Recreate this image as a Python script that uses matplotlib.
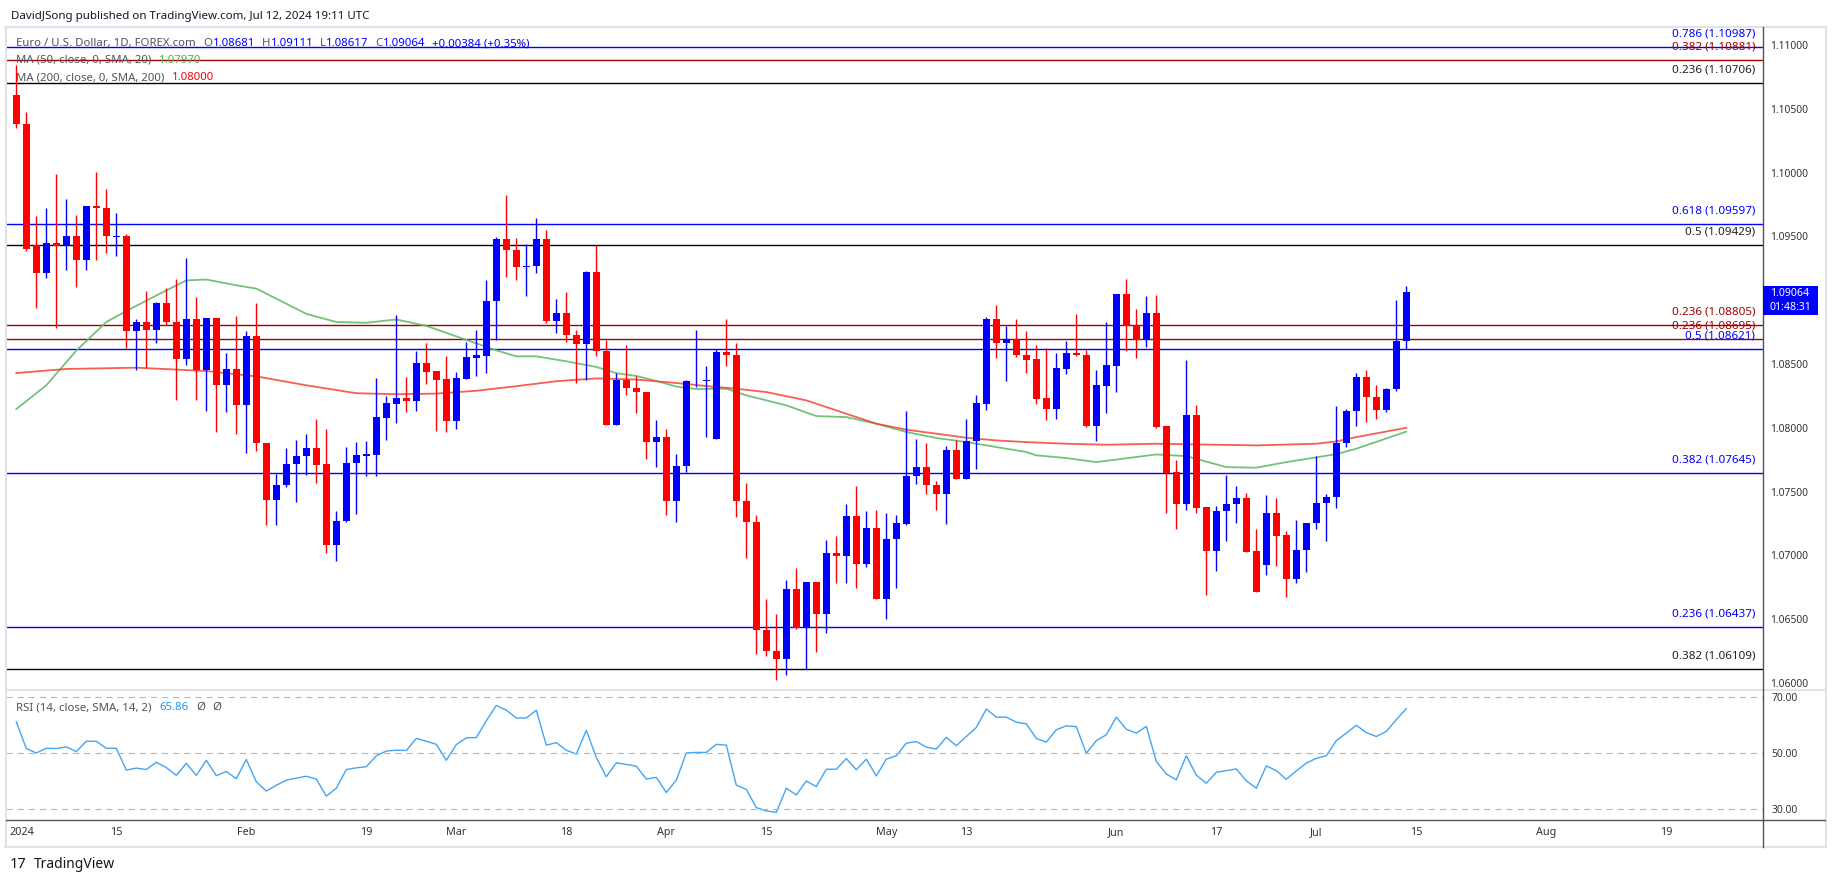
import matplotlib
matplotlib.use('Agg')
import matplotlib.pyplot as plt
import numpy as np
from matplotlib.patches import Rectangle
from matplotlib.lines import Line2D
from matplotlib.transforms import offset_copy

plt.rcParams['font.family'] = ['Noto Sans', 'DejaVu Sans']

# EUR/USD daily candles, 1 Jan .. 12 Jul 2024
opens = [1.10611, 1.10381, 1.09431, 1.09213, 1.09447, 1.09421, 1.09501, 1.09312, 1.09735, 1.09725,
         1.09495, 1.09501, 1.08755, 1.08829, 1.08765, 1.08979, 1.08829, 1.08541, 1.08855, 1.08455,
         1.08861, 1.08339, 1.08461, 1.08179, 1.08717, 1.07879, 1.07431, 1.07549, 1.07719, 1.07779,
         1.07843, 1.07719, 1.07085, 1.07271, 1.07725, 1.07781, 1.07790, 1.08079, 1.08189, 1.08233,
         1.08213, 1.08510, 1.08447, 1.08384, 1.08051, 1.08384, 1.08549, 1.08565, 1.08992, 1.09481,
         1.09396, 1.09264, 1.09267, 1.09481, 1.08835, 1.08896, 1.08730, 1.08653, 1.09223, 1.08604,
         1.08018, 1.08378, 1.08315, 1.08282, 1.07886, 1.07930, 1.07429, 1.07699, 1.08364, 1.08367,
         1.07914, 1.08593, 1.08572, 1.07426, 1.07261, 1.06418, 1.06253, 1.06190, 1.06739, 1.06431,
         1.06791, 1.06543, 1.07021, 1.06992, 1.07306, 1.06930, 1.07217, 1.06655, 1.07131, 1.07248,
         1.07622, 1.07695, 1.07554, 1.07483, 1.07828, 1.07601, 1.07894, 1.08188, 1.08855, 1.08667,
         1.08693, 1.08572, 1.08541, 1.08233, 1.08149, 1.08463, 1.08588, 1.08573, 1.08014, 1.08324,
         1.08481, 1.09051, 1.08803, 1.08685, 1.08902, 1.08014, 1.07653, 1.07405, 1.08097, 1.07379,
         1.07034, 1.07344, 1.07402, 1.07452, 1.07031, 1.06921, 1.07334, 1.07157, 1.06812, 1.07039,
         1.07253, 1.07410, 1.07457, 1.07883, 1.08131, 1.08398, 1.08241, 1.08136, 1.08301, 1.08681]
highs = [1.10845, 1.10471, 1.09661, 1.09725, 1.09991, 1.09795, 1.09671, 1.09741, 1.10007, 1.09875,
         1.09687, 1.09517, 1.08855, 1.09075, 1.08989, 1.09095, 1.09165, 1.09331, 1.09027, 1.08861,
         1.08861, 1.08583, 1.08877, 1.08755, 1.08979, 1.07879, 1.07635, 1.07843, 1.07901, 1.07955,
         1.08067, 1.07987, 1.07347, 1.07853, 1.07885, 1.07900, 1.08392, 1.08249, 1.08887, 1.08400,
         1.08604, 1.08667, 1.08447, 1.08565, 1.08439, 1.08675, 1.08769, 1.09162, 1.09495, 1.09823,
         1.09487, 1.09440, 1.09647, 1.09553, 1.09006, 1.09066, 1.08769, 1.09231, 1.09429, 1.08689,
         1.08428, 1.08648, 1.08406, 1.08282, 1.08062, 1.07993, 1.07795, 1.08378, 1.08769, 1.08483,
         1.08620, 1.08855, 1.08667, 1.07570, 1.07314, 1.06661, 1.06543, 1.06804, 1.06903, 1.06791,
         1.06791, 1.07123, 1.07149, 1.07405, 1.07541, 1.07345, 1.07358, 1.07334, 1.07314, 1.08134,
         1.07914, 1.07883, 1.07585, 1.07854, 1.07906, 1.08071, 1.08259, 1.08868, 1.08959, 1.08795,
         1.08855, 1.08755, 1.08646, 1.08627, 1.08588, 1.08682, 1.08894, 1.08612, 1.08455, 1.08829,
         1.09051, 1.09168, 1.08928, 1.09030, 1.09043, 1.08014, 1.07744, 1.08528, 1.08176, 1.07379,
         1.07384, 1.07627, 1.07541, 1.07491, 1.07209, 1.07470, 1.07452, 1.07188, 1.07274, 1.07256,
         1.07776, 1.07478, 1.08170, 1.08144, 1.08432, 1.08455, 1.08338, 1.08311, 1.09004, 1.09111]
lows = [1.10349, 1.09389, 1.08941, 1.09171, 1.08781, 1.09235, 1.09107, 1.09235, 1.09312, 1.09367,
        1.09344, 1.08627, 1.08451, 1.08471, 1.08663, 1.08807, 1.08221, 1.08493, 1.08221, 1.08135,
        1.07965, 1.08125, 1.07955, 1.07805, 1.07815, 1.07239, 1.07235, 1.07533, 1.07421, 1.07629,
        1.07565, 1.07015, 1.06957, 1.07261, 1.07325, 1.07625, 1.07625, 1.07905, 1.08034, 1.08125,
        1.08133, 1.08340, 1.07971, 1.07966, 1.07988, 1.08384, 1.08409, 1.08428, 1.08686, 1.09184,
        1.09157, 1.09033, 1.09212, 1.08818, 1.08741, 1.08670, 1.08354, 1.08373, 1.08560, 1.08018,
        1.08018, 1.08255, 1.08117, 1.07759, 1.07691, 1.07314, 1.07259, 1.07652, 1.08323, 1.07924,
        1.07914, 1.08481, 1.07298, 1.06980, 1.06230, 1.06211, 1.06021, 1.06065, 1.06420, 1.06112,
        1.06243, 1.06394, 1.06786, 1.06786, 1.06747, 1.06909, 1.06655, 1.06504, 1.06747, 1.07240,
        1.07562, 1.07483, 1.07358, 1.07248, 1.07601, 1.07601, 1.07679, 1.08136, 1.08549, 1.08364,
        1.08554, 1.08431, 1.08183, 1.08058, 1.08066, 1.08419, 1.08562, 1.08006, 1.07893, 1.08118,
        1.08280, 1.08599, 1.08549, 1.08633, 1.07998, 1.07334, 1.07203, 1.07352, 1.07334, 1.06686,
        1.06874, 1.07109, 1.07256, 1.07026, 1.06712, 1.06843, 1.06916, 1.06673, 1.06783, 1.06869,
        1.07203, 1.07109, 1.07371, 1.07849, 1.08014, 1.08045, 1.08066, 1.08123, 1.08288, 1.08617]
closes = [1.10381, 1.09405, 1.09213, 1.09447, 1.09421, 1.09501, 1.09312, 1.09735, 1.09725, 1.09501,
          1.09501, 1.08755, 1.08829, 1.08765, 1.08979, 1.08829, 1.08541, 1.08855, 1.08455, 1.08861,
          1.08339, 1.08461, 1.08179, 1.08717, 1.07879, 1.07431, 1.07549, 1.07719, 1.07779, 1.07843,
          1.07709, 1.07085, 1.07271, 1.07725, 1.07783, 1.07792, 1.08084, 1.08197, 1.08233, 1.08213,
          1.08510, 1.08439, 1.08378, 1.08051, 1.08392, 1.08557, 1.08571, 1.08997, 1.09481, 1.09391,
          1.09259, 1.09270, 1.09481, 1.08835, 1.08896, 1.08725, 1.08653, 1.09223, 1.08598, 1.08018,
          1.08378, 1.08310, 1.08277, 1.07886, 1.07930, 1.07429, 1.07699, 1.08367, 1.08370, 1.08373,
          1.08593, 1.08567, 1.07423, 1.07261, 1.06412, 1.06248, 1.06190, 1.06739, 1.06431, 1.06791,
          1.06543, 1.07021, 1.06992, 1.07306, 1.06930, 1.07217, 1.06655, 1.07131, 1.07256, 1.07622,
          1.07695, 1.07549, 1.07483, 1.07828, 1.07601, 1.07899, 1.08196, 1.08855, 1.08667, 1.08693,
          1.08567, 1.08533, 1.08228, 1.08149, 1.08471, 1.08588, 1.08568, 1.08014, 1.08332, 1.08489,
          1.09051, 1.08795, 1.08685, 1.08902, 1.08006, 1.07648, 1.07405, 1.08097, 1.07373, 1.07034,
          1.07347, 1.07405, 1.07452, 1.07026, 1.06712, 1.07334, 1.07151, 1.06812, 1.07044, 1.07256,
          1.07413, 1.07457, 1.07883, 1.08131, 1.08398, 1.08241, 1.08136, 1.08306, 1.08680, 1.09064]

# moving averages, read at a set of bars
ma50_bars = [0, 3, 6, 9, 11, 14, 17, 19, 22, 24, 29, 32, 35, 38, 41, 43, 45, 48, 50, 52, 55, 58, 60,
             62, 64, 66, 68, 71, 73, 77, 80, 83, 86, 89, 92, 95, 98, 101, 102, 105, 108, 112, 114,
             117, 121, 124, 127, 130, 132, 134, 139]
ma50_vals = [1.08147, 1.08333, 1.08605, 1.08829, 1.08915, 1.09037, 1.09155, 1.09162, 1.09117, 1.09091,
             1.08893, 1.08829, 1.08823, 1.08849, 1.08799, 1.08744, 1.08689, 1.08607, 1.08560, 1.08560,
             1.08521, 1.08477, 1.08428, 1.08406, 1.08367, 1.08323, 1.08304, 1.08306, 1.08254, 1.08176,
             1.08092, 1.08084, 1.08032, 1.07967, 1.07920, 1.07888, 1.07849, 1.07810, 1.07784, 1.07763,
             1.07731, 1.07771, 1.07791, 1.07778, 1.07692, 1.07687, 1.07731, 1.07768, 1.07794, 1.07836,
             1.07970]
ma200_bars = [0, 5, 12, 19, 24, 29, 34, 38, 42, 46, 50, 54, 58, 62, 66, 69, 72, 75, 79, 83, 86, 89,
              92, 95, 98, 101, 105, 109, 114, 124, 130, 132, 134, 139]
ma200_vals = [1.08429, 1.08461, 1.08471, 1.08445, 1.08403, 1.08333, 1.08271, 1.08263, 1.08268, 1.08290,
              1.08326, 1.08365, 1.08387, 1.08378, 1.08351, 1.08327, 1.08306, 1.08280, 1.08215, 1.08110,
              1.08032, 1.07985, 1.07954, 1.07922, 1.07901, 1.07888, 1.07875, 1.07867, 1.07875, 1.07862,
              1.07875, 1.07893, 1.07927, 1.08000]

rsi = [61.1, 51.6, 50.0, 51.7, 51.6, 52.2, 50.5, 54.2, 54.2, 51.7, 51.7, 43.9, 44.6, 44.1, 46.7, 44.8,
       42.0, 46.3, 42.0, 47.4, 41.9, 43.4, 40.8, 47.7, 39.7, 36.4, 38.5, 40.3, 41.0, 41.7, 40.7, 34.6,
       37.4, 44.1, 44.7, 45.1, 49.0, 50.7, 51.0, 50.9, 55.2, 54.2, 53.1, 47.4, 53.0, 55.4, 55.5, 61.5,
       67.0, 65.3, 62.5, 62.5, 65.3, 52.8, 53.7, 51.0, 49.6, 58.1, 48.4, 41.5, 46.5, 45.9, 45.3, 40.7,
       41.3, 35.9, 40.3, 50.0, 50.2, 50.2, 53.1, 52.8, 38.5, 37.0, 30.5, 29.3, 28.8, 37.4, 35.0, 40.0,
       38.0, 44.2, 44.2, 48.0, 44.0, 47.8, 41.8, 47.8, 49.0, 53.5, 54.1, 52.1, 51.4, 55.6, 52.6, 55.9,
       59.1, 65.7, 62.8, 62.8, 61.0, 60.4, 55.2, 53.9, 58.3, 59.7, 59.4, 49.9, 54.4, 56.5, 62.8, 58.5,
       57.1, 59.5, 47.0, 42.5, 40.4, 49.0, 42.1, 39.2, 43.1, 43.7, 44.3, 40.1, 37.4, 45.4, 43.7, 40.6,
       43.6, 46.4, 48.1, 49.0, 54.4, 57.1, 59.9, 57.3, 55.9, 57.7, 61.9, 65.86]

fib_prices = [1.10987, 1.10881, 1.10706, 1.09597, 1.09429, 1.08805, 1.08695, 1.08621, 1.07645, 1.06437, 1.06109]
fib_ratios = ['0.786', '0.382', '0.236', '0.618', '0.5', '0.236', '0.236', '0.5', '0.382', '0.236', '0.382']
fib_colors = ['#0000ff', '#a00000', '#000000', '#0000ff', '#000000', '#a00000', '#a00000', '#0000ff',
              '#0000ff', '#0000ff', '#000000']

tick_dates = ['2024-01-01', '2024-01-15', '2024-02-01', '2024-02-19', '2024-03-01', '2024-03-18',
              '2024-04-01', '2024-04-15', '2024-05-01', '2024-05-13', '2024-06-03', '2024-06-17',
              '2024-07-01', '2024-07-15', '2024-08-01', '2024-08-19']
tick_labels = ['2024', '15', 'Feb', '19', 'Mar', '18', 'Apr', '15', 'May', '13', 'Jun', '17', 'Jul',
               '15', 'Aug', '19']

W, H = 1835, 883
fig = plt.figure(figsize=(W / 100, H / 100), dpi=100)
fig.patch.set_facecolor('white')


def box(l, t, r, b):
    return [l / W, 1 - b / H, (r - l) / W, (b - t) / H]


ax = fig.add_axes(box(6, 27, 1763, 690))
axr = fig.add_axes(box(6, 690, 1763, 820), sharex=ax)

o, h, l, c = map(np.array, (opens, highs, lows, closes))
x = np.arange(len(o))
cols = np.where(c >= o, '#0000ff', '#ff0000')
ax.vlines(x, l, h, colors=cols, lw=1.0, zorder=3)
ax.bar(x, np.maximum(np.abs(c - o), 0.00006), bottom=np.minimum(o, c), width=0.68,
       color=cols, lw=0, zorder=4)

ax.plot(ma50_bars, ma50_vals, color='#66bb6a', lw=1.3, alpha=0.9, zorder=2)
ax.plot(ma200_bars, ma200_vals, color='#f44336', lw=1.3, alpha=0.85, zorder=2)

lab_tr = offset_copy(ax.transData, fig=fig, x=0, y=13, units='dots')
for p, r, col in zip(fib_prices, fib_ratios, fib_colors):
    ax.axhline(p, color=col, lw=1.0, zorder=1)
    ax.text(173.9, p, f'{r} ({p:.5f})', transform=lab_tr, ha='right', va='center',
            fontsize=8.4, color=col if col != '#000000' else '#222222')

ax.set_xlim(-1.03, 174.67)
ax.set_ylim(1.05945, 1.11141)
ax.set_yticks(np.arange(1.06, 1.1101, 0.005))
ax.yaxis.set_major_formatter(matplotlib.ticker.FormatStrFormatter('%.5f'))
ax.yaxis.tick_right()
ax.tick_params(axis='y', length=0, pad=5, labelsize=7.4, labelcolor='#333333')
ax.tick_params(axis='x', length=0, labelbottom=False)
for s in ax.spines.values():
    s.set_visible(False)

axr.plot(x, rsi, color='#42a5f5', lw=1.0)
for lv in (70, 50, 30):
    axr.axhline(lv, color='#b2b5be', lw=0.8, ls=(0, (5.5, 4.5)))
axr.set_ylim(26.07, 72.5)
axr.set_yticks([70, 50, 30])
axr.set_yticklabels(['70.00', '50.00', '30.00'])
axr.yaxis.tick_right()
axr.tick_params(axis='y', length=0, pad=6, labelsize=7.4, labelcolor='#333333')
tick_pos = np.busday_count('2024-01-01', tick_dates)
axr.set_xticks(tick_pos[1:])
axr.set_xticklabels(tick_labels[1:])
axr.tick_params(axis='x', length=0, pad=5, labelsize=7.8, labelcolor='#333333')
axr.text(tick_pos[0], 0, tick_labels[0], fontsize=7.8, color='#333333', ha='left', va='top',
         transform=offset_copy(axr.get_xaxis_transform(), fig=fig, x=-7, y=-7, units='dots'))
for s in axr.spines.values():
    s.set_visible(False)

# frame lines
def hline(y, x0, x1, col, lw):
    fig.add_artist(Line2D([x0 / W, x1 / W], [1 - y / H, 1 - y / H], color=col, lw=lw))


def vline(xp, y0, y1, col, lw):
    fig.add_artist(Line2D([xp / W, xp / W], [1 - y0 / H, 1 - y1 / H], color=col, lw=lw))


hline(27, 5, 1826, '#e0e3eb', 1.5)
hline(847, 5, 1826, '#e0e3eb', 1.5)
vline(5.5, 27, 847, '#e0e3eb', 1.5)
vline(1825.5, 27, 847, '#e0e3eb', 1.5)
hline(690, 6, 1825, '#e0e3eb', 1.5)
hline(820, 6, 1825, '#50535e', 1.0)
vline(1763, 27, 847, '#50535e', 1.0)

# price tag
fig.add_artist(Rectangle((1763 / W, 1 - 315 / H), 55 / W, 29 / H, transform=fig.transFigure,
                         facecolor='#0000ff', edgecolor='none', zorder=5))
fig.text(1790 / W, 1 - 293 / H, f'{closes[-1]:.5f}', color='white', fontsize=7.6,
         fontweight='bold', ha='center', va='center', zorder=6)
fig.text(1790 / W, 1 - 307 / H, '01:48:31', color='white', fontsize=7.6,
         fontweight='bold', ha='center', va='center', zorder=6)

# legend texts
rend = fig.canvas.get_renderer()


def chain(xp, yp, pieces, size):
    for s, col, gap in pieces:
        t = fig.text(xp / W, 1 - yp / H, s, color=col, fontsize=size, ha='left', va='baseline')
        xp += t.get_window_extent(rend).width + gap


grey = '#50535e'
blue = '#0000ff'
chain(11, 19, [('DavidJSong published on TradingView.com, Jul 12, 2024 19:11 UTC', '#131722', 0)], 8.3)
chain(16, 46, [('Euro / U.S. Dollar, 1D, FOREX.com', grey, 8),
               ('O', grey, 0), (f'{opens[-1]:.5f}', blue, 7),
               ('H', grey, 0), (f'{highs[-1]:.5f}', blue, 7),
               ('L', grey, 0), (f'{lows[-1]:.5f}', blue, 7),
               ('C', grey, 0), (f'{closes[-1]:.5f}', blue, 7),
               ('+0.00384 (+0.35%)', blue, 0)], 8.2)
chain(16, 63, [('MA (50, close, 0, SMA, 20)', grey, 8), (f'{ma50_vals[-1]:.5f}', '#4caf50', 0)], 8.2)
chain(16, 80, [('MA (200, close, 0, SMA, 200)', grey, 8), (f'{ma200_vals[-1]:.5f}', '#ff0000', 0)], 8.2)
chain(16, 710, [('RSI (14, close, SMA, 14, 2)', grey, 8), (f'{rsi[-1]:.2f}', '#2196f3', 8),
                ('Ø', grey, 7), ('Ø', grey, 0)], 8.2)

# logo
fig.text(10 / W, 1 - 868 / H, '17', fontsize=10.5, fontweight='heavy', color='#131722')
fig.text(34 / W, 1 - 868 / H, 'TradingView', fontsize=10, color='#131722')

fig.savefig('out.png', dpi=100, facecolor='white')
